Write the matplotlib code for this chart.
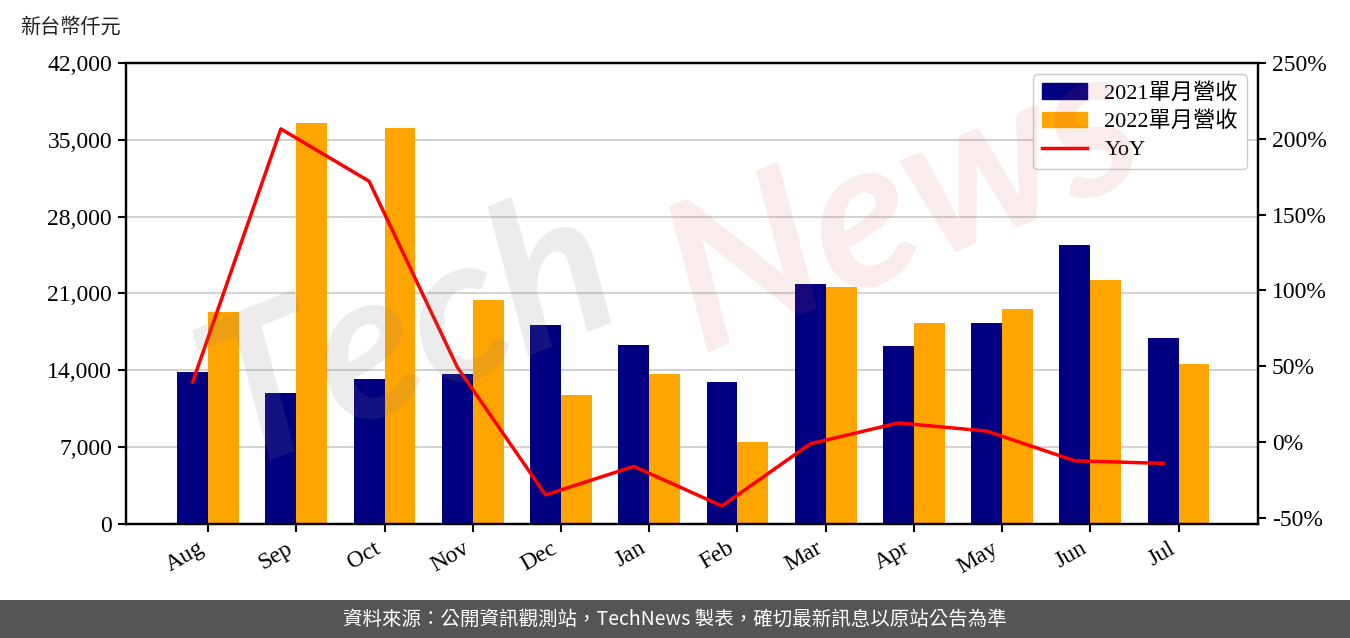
import matplotlib
matplotlib.use("Agg")
import matplotlib.pyplot as plt
import numpy as np
from matplotlib.ticker import FuncFormatter, MultipleLocator
from matplotlib.patches import Patch, Rectangle
from matplotlib.lines import Line2D
import matplotlib.transforms as mtransforms

months = ["Aug", "Sep", "Oct", "Nov", "Dec", "Jan", "Feb", "Mar", "Apr", "May", "Jun", "Jul"]
rev_2021 = [13850, 11940, 13210, 13670, 18130, 16310, 12940, 21870, 16220, 18310, 25420, 16950]
rev_2022 = [19320, 36530, 36080, 20410, 11750, 13670, 7470, 21590, 18310, 19590, 22230, 14580]
yoy = [39.5, 206.5, 172.0, 49.3, -35.0, -16.2, -42.3, -1.3, 12.5, 7.1, -12.5, -14.2]

label_2021 = "2021單月營收"
label_2022 = "2022單月營收"
label_yoy = "YoY"
unit_label = "新台幣仟元"
footer = "資料來源：公開資訊觀測站，TechNews 製表，確切最新訊息以原站公告為準"

SERIF = ["Liberation Serif", "Noto Sans CJK TC"]
MIX = ["Liberation Serif", "Noto Sans CJK TC"]
CJK = ["Noto Sans CJK TC", "DejaVu Sans"]

fig = plt.figure(figsize=(13.5, 6.38), dpi=100)
ax = fig.add_axes([126 / 1350, 1 - 524 / 638, (1258 - 126) / 1350, (524 - 63) / 638])
ax2 = ax.twinx()

x = np.arange(len(months))
w = 0.35
ax.bar(x - w / 2, rev_2021, width=w, color="#000080", zorder=2)
ax.bar(x + w / 2, rev_2022, width=w, color="#FFA500", zorder=2)
ax2.plot(x - w / 2, yoy, color="#FF0000", lw=2.5, zorder=3)

ax.set_xlim(-0.93, 11.9)
ax.set_ylim(0, 42000)
ax.yaxis.set_major_locator(MultipleLocator(7000))
ax.yaxis.set_major_formatter(FuncFormatter(lambda v, p: f"{int(v):,}"))
ax.grid(axis="y", color="#d3d3d3", lw=1.5, zorder=0)
ax.set_axisbelow(True)

ax2.set_ylim(-54.2, 250)
ax2.set_yticks([-50, 0, 50, 100, 150, 200, 250])
ax2.yaxis.set_major_formatter(FuncFormatter(lambda v, p: f"{int(v)}%"))

ax.set_xticks(x)
ax.set_xticklabels(months, rotation=30, ha="right", rotation_mode="default",
                   family=SERIF, fontsize=17)
offset = mtransforms.ScaledTranslation(-8 / 100, -3 / 100, fig.dpi_scale_trans)
for lab in ax.get_xticklabels():
    lab.set_transform(lab.get_transform() + offset)
for lab in ax.get_yticklabels():
    lab.set_family(SERIF)
    lab.set_fontsize(17)
for lab in ax2.get_yticklabels():
    lab.set_family(SERIF)
    lab.set_fontsize(17)

for a in (ax, ax2):
    for s in a.spines.values():
        s.set_linewidth(1.6)
        s.set_color("black")
    a.tick_params(width=1.5, length=6, pad=4)

handles = [Patch(color="#000080", label=label_2021),
           Patch(color="#FFA500", label=label_2022),
           Line2D([0], [0], color="#FF0000", lw=2.5, label=label_yoy)]
leg = ax2.legend(handles=handles, loc="upper right", prop={"family": MIX, "size": 16},
                 frameon=True, fancybox=True, edgecolor="#cccccc", framealpha=1,
                 borderaxespad=0.5, handlelength=2.0, handletextpad=0.8,
                 labelspacing=0.35)
leg.set_zorder(10)

fig.text(20 / 1350, 1 - 27 / 638, unit_label, family=CJK, fontsize=14.5,
         ha="left", va="center", color="#222222")

# watermark
fig.text(410 / 1350, 1 - 335 / 638, "Tech", family=["Lato", "DejaVu Sans"], fontsize=150,
         fontweight="bold", style="italic", rotation=22, color="#808080", alpha=0.15,
         ha="center", va="center", zorder=20)
fig.text(905 / 1350, 1 - 205 / 638, "News", family=["Lato", "DejaVu Sans"], fontsize=150,
         fontweight="bold", style="italic", rotation=22, color="#d05050", alpha=0.11,
         ha="center", va="center", zorder=20)

# footer
fig.patches.append(Rectangle((0, 0), 1, 38 / 638, transform=fig.transFigure,
                             facecolor="#555555", edgecolor="none", zorder=0))
fig.text(0.5, 19 / 638, footer, family=CJK, fontsize=14, color="white",
         ha="center", va="center")

fig.savefig("out.png", dpi=100)
